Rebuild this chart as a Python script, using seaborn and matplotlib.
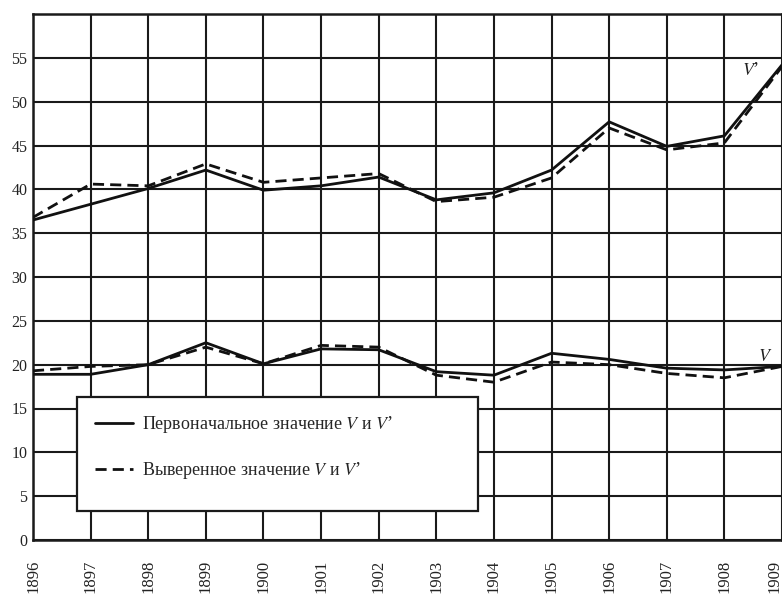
import matplotlib
matplotlib.use("Agg")
import matplotlib.pyplot as plt
import seaborn as sns
import pandas as pd
from matplotlib.lines import Line2D
from matplotlib.patches import Rectangle

# values
years = list(range(1896, 1910))
v_prime_orig = [36.5, 38.3, 40.1, 42.2, 39.9, 40.4, 41.4, 38.8, 39.6, 42.2, 47.7, 44.9, 46.1, 54.2]
v_prime_ver = [36.8, 40.6, 40.4, 42.9, 40.8, 41.3, 41.8, 38.6, 39.1, 41.3, 47.0, 44.5, 45.3, 54.0]
v_orig = [18.9, 18.9, 20.0, 22.5, 20.1, 21.8, 21.7, 19.2, 18.8, 21.3, 20.6, 19.6, 19.4, 19.8]
v_ver = [19.3, 19.8, 20.0, 22.0, 20.1, 22.2, 22.0, 18.8, 18.0, 20.3, 20.0, 19.0, 18.5, 19.8]

y_ticks = list(range(0, 60, 5))
label_orig = "Первоначальное значение $V$ и $V$\u2019"
label_ver = "Выверенное значение $V$ и $V$\u2019"

sns.set_style("white")
plt.rcParams['font.family'] = ['Liberation Serif', 'DejaVu Serif']
plt.rcParams['mathtext.fontset'] = 'stix'

frames = []
for name, kind, vals in [("V'", "orig", v_prime_orig), ("V'", "ver", v_prime_ver),
                         ("V", "orig", v_orig), ("V", "ver", v_ver)]:
    frames.append(pd.DataFrame({"year": years, "value": vals, "series": name, "kind": kind}))
df = pd.concat(frames, ignore_index=True)

fig = plt.figure(figsize=(7.82, 5.98), dpi=100)
ax = fig.add_axes([33 / 782, 1 - 540 / 598, 749 / 782, 526 / 598])

sns.lineplot(data=df, x="year", y="value", style="kind", units="series", estimator=None,
             color="#111111", linewidth=2.0, dashes={"orig": "", "ver": (4, 2.2)},
             legend=False, ax=ax, zorder=3)

ax.set_xlim(1896, 1909)
ax.set_ylim(0, 60)
ax.set_xticks(years)
ax.set_xticklabels([str(y) for y in years], rotation=90, fontsize=12, color="#222222")
# last year sits on the right edge; keep its label inside the picture
ax.get_xticklabels()[-1].set_horizontalalignment("right")
ax.set_yticks(y_ticks)
ax.set_yticklabels([str(v) for v in y_ticks], fontsize=11.5, color="#222222")
ax.tick_params(length=0, pad=4)
ax.tick_params(axis="x", pad=14)
ax.set_xlabel("")
ax.set_ylabel("")
ax.grid(True, color="#1a1a1a", linewidth=1.5)
ax.set_axisbelow(True)
for side in ax.spines:
    ax.spines[side].set_color("#1a1a1a")
    ax.spines[side].set_linewidth(1.8)

ax.text(1908.45, 53.5, "$V$\u2019", fontsize=13, color="#222222", ha="center", va="center")
ax.text(1908.7, 20.9, "$V$", fontsize=13, color="#222222", ha="center", va="center")

# legend box is taller than its two entries, so the frame is drawn on its own
box = Rectangle((0.0587, 0.055), 0.535, 0.217, transform=ax.transAxes,
                facecolor="white", edgecolor="#1a1a1a", linewidth=1.6, zorder=4)
ax.add_patch(box)

handles = [Line2D([], [], color="#111111", lw=2.0, label=label_orig),
           Line2D([], [], color="#111111", lw=2.0, dashes=(4, 2.2), label=label_ver)]
leg = ax.legend(handles=handles, loc="upper left", bbox_to_anchor=(0.0708, 0.2567),
                fontsize=13, frameon=False, borderpad=0.5, labelspacing=1.4,
                handlelength=2.1, handletextpad=0.5, borderaxespad=0)
leg.set_zorder(5)

fig.savefig("out.png", dpi=100, facecolor="white")
